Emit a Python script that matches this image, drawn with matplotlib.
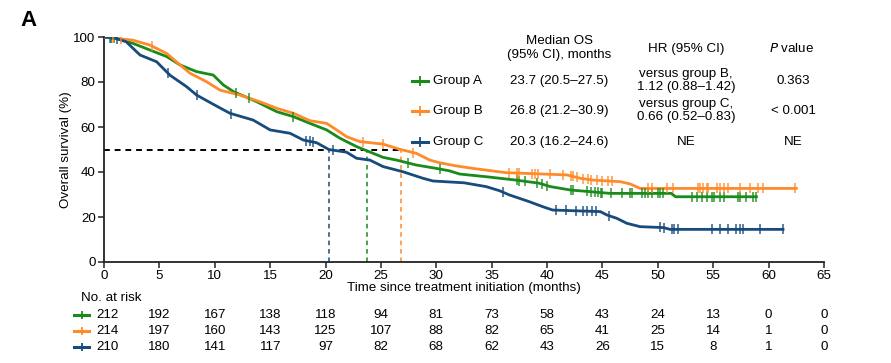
import numpy as np
import matplotlib
matplotlib.use("Agg")
import matplotlib.pyplot as plt
from matplotlib.lines import Line2D

plt.rcParams['font.family'] = ['Liberation Sans', 'DejaVu Sans']

# ---------------- data ----------------
groups = ["Group A", "Group B", "Group C"]
colors = ["#1a8a1a", "#ff8a2a", "#174b7b"]

time_A = [0, 1.4, 2.6, 4.15, 5.66, 6.86, 8.36, 9.86, 10.77, 11.7, 13.8, 15.6, 17.1, 18.6, 20.1,
          21.3, 22.8, 23.7, 25.2, 26.4, 28.2, 30.0, 31.2, 32.1, 34.5, 37.2, 39.3, 40.3, 42.1,
          45.7, 51.2, 51.6, 58.9]
surv_A = [100, 99, 97.2, 94.2, 91.3, 87.6, 84.6, 83.1, 78.7, 75.7, 71.2, 66.8, 64.6, 61.6, 58.7,
          55, 51.3, 49.5, 46.5, 45.3, 43.1, 41.6, 40.5, 39.1, 37.9, 36.4, 35, 33.5, 32,
          30.5, 30.5, 29, 29]

time_B = [0, 1.4, 2.6, 4.15, 5.66, 6.86, 7.76, 9.27, 10.47, 12.27, 14.08, 15.6, 17.1, 18.6, 20.1,
          21.0, 21.9, 23.1, 25.2, 26.7, 28.2, 29.4, 30.3, 31.8, 33.3, 36.3, 41.8, 43.0, 44.2,
          46.6, 47.5, 48.4, 62.5]
surv_B = [100, 99.2, 98.6, 96.4, 92.7, 87.6, 83.9, 80.1, 76.4, 74.2, 71.2, 68.3, 66.1, 62.8, 61.6,
          58.7, 55.7, 53.5, 52.4, 50.1, 48.3, 45.3, 44.1, 42.7, 41.6, 39.7, 38.7, 37.2, 36.4,
          35.7, 34.7, 32.7, 32.7]

time_C = [0, 1.0, 2.0, 3.25, 4.75, 5.96, 7.46, 8.36, 9.9, 11.37, 13.46, 15.0, 16.8, 18.0, 19.2,
          20.3, 21.9, 22.8, 24.0, 25.2, 27.0, 28.8, 29.7, 32.5, 34.5, 35.7, 36.6, 38.4, 39.6,
          40.5, 44.8, 45.4, 46.3, 47.2, 48.4, 50.5, 51.1, 61.3]
surv_C = [100, 99.5, 97.9, 92, 89, 83, 77.9, 74.2, 70, 66.1, 63.1, 58.7, 57.2, 54.2, 53,
          50, 48.8, 46.1, 45.3, 42.4, 40.1, 37.2, 36, 35.2, 33.5, 31.7, 29.8, 26.8, 24.6,
          23.1, 22.4, 20.9, 19.4, 17.2, 15.7, 15.3, 14.5, 14.5]

cens_A = [0.5, 0.9, 11.9, 13.1, 17.1, 27.4, 30.3, 37.3, 37.5, 38.0, 39.1, 39.5, 40.0, 42.2, 42.3,
          43.6, 44.0, 44.3, 44.6, 44.9, 45.0, 45.8, 46.8, 47.5, 47.7, 48.6, 48.8, 49.1, 49.5, 50.0,
          50.2, 50.5, 53.1, 53.5, 54.0, 54.4, 54.9, 55.1, 55.6, 56.0, 57.2, 57.4, 58.0, 58.6, 58.9]
cens_B = [0.8, 1.5, 4.3, 23.4, 25.2, 27.9, 36.6, 37.3, 37.5, 38.6, 38.9, 39.2, 40.3, 41.4, 42.2,
          42.3, 42.7, 43.2, 43.7, 44.0, 44.5, 45.0, 45.5, 45.9, 49.1, 49.5, 50.8, 51.4, 53.6, 53.8,
          54.1, 54.4, 54.5, 55.3, 55.6, 56.0, 56.3, 57.4, 58.3, 59.0, 59.5, 62.4]
cens_C = [0.6, 1.2, 5.8, 8.4, 11.5, 18.2, 18.6, 18.9, 20.7, 36.0, 40.8, 41.7, 42.6, 43.2, 43.6,
          44.1, 44.4, 45.6, 50.2, 50.6, 51.3, 51.5, 51.8, 54.9, 55.6, 56.3, 57.1, 57.4, 57.7, 59.2, 61.3]

medians = [23.7, 26.8, 20.3]
median_text = ["23.7 (20.5\u201327.5)", "26.8 (21.2\u201330.9)", "20.3 (16.2\u201324.6)"]
hr_text = ["versus group B,\n1.12 (0.88\u20131.42)", "versus group C,\n0.66 (0.52\u20130.83)", "NE"]
p_text = ["0.363", "< 0.001", "NE"]

risk_times = [0, 5, 10, 15, 20, 25, 30, 35, 40, 45, 50, 55, 60, 65]
risk_A = [212, 192, 167, 138, 118, 94, 81, 73, 58, 43, 24, 13, 0, 0]
risk_B = [214, 197, 160, 143, 125, 107, 88, 82, 65, 41, 25, 14, 1, 0]
risk_C = [210, 180, 141, 117, 97, 82, 68, 62, 43, 26, 15, 8, 1, 0]

xticks = [0, 5, 10, 15, 20, 25, 30, 35, 40, 45, 50, 55, 60, 65]
yticks = [0, 20, 40, 60, 80, 100]

# ---------------- figure ----------------
W, H = 891, 363
fig = plt.figure(figsize=(W / 100, H / 100), dpi=100)

def fx(px):
    return px / W

def fy(py):
    return 1 - py / H

FS = 9.6
ax = fig.add_axes([fx(104), fy(262), fx(824) - fx(104), fy(37) - fy(262)])
ax.set_xlim(0, 65)
ax.set_ylim(0, 100)
for s in ["top", "right"]:
    ax.spines[s].set_visible(False)
for s in ["left", "bottom"]:
    ax.spines[s].set_linewidth(1.3)
    ax.spines[s].set_color("#222222")
ax.set_xticks(xticks)
ax.set_yticks(yticks)
ax.tick_params(direction="out", length=4, width=1.1, labelsize=FS, pad=2, color="#222222")
ax.set_xlabel("Time since treatment initiation (months)", fontsize=FS, labelpad=0)
ax.set_ylabel("Overall survival (%)", fontsize=FS, labelpad=1)

times = [time_A, time_B, time_C]
survs = [surv_A, surv_B, surv_C]
cens = [cens_A, cens_B, cens_C]

# median reference lines
for med, c in zip(medians, colors):
    ax.plot([med, med], [0, 50], color=c, lw=1.1, ls=(0, (3, 2.5)), zorder=2)
ax.plot([0, max(medians)], [50, 50], color="black", lw=1.4, ls=(0, (3, 2.5)), zorder=2)

# curves
for t, sv, ce, c in zip(times, survs, cens, colors):
    ax.plot(t, sv, color=c, lw=2.0, solid_joinstyle="miter", zorder=3)
    cy = np.interp(ce, t, sv)
    ax.plot(ce, cy, ls="none", marker="|", ms=7, mew=1.1, color=c, alpha=0.9, zorder=4)

# panel label
fig.text(fx(20), fy(20), "A", fontsize=16, fontweight="bold", ha="left", va="center")

# legend / summary table
row_y = [81, 111, 142]
fig.text(fx(559), fy(48), "Median OS\n(95% CI), months", fontsize=FS, ha="center", va="center",
         linespacing=1.25)
fig.text(fx(686), fy(49), "HR (95% CI)", fontsize=FS, ha="center", va="center")
fig.text(fx(792), fy(49), r"$\it{P}$ value", fontsize=FS, ha="center", va="center")
for i in range(3):
    y = fy(row_y[i])
    fig.add_artist(Line2D([fx(412), fx(428)], [y, y], transform=fig.transFigure, color=colors[i], lw=2.2))
    fig.add_artist(Line2D([fx(420)], [y], transform=fig.transFigure, color=colors[i], marker="|",
                          ms=7, mew=1.3, ls="none"))
    fig.text(fx(433), y, groups[i], fontsize=FS, ha="left", va="center")
    fig.text(fx(559), y, median_text[i], fontsize=FS, ha="center", va="center")
    hr_y = fy(row_y[i] - 0.5) if i < 2 else y
    fig.text(fx(686), hr_y, hr_text[i], fontsize=FS, ha="center", va="center", linespacing=1.15)
    fig.text(fx(793), y, p_text[i], fontsize=FS, ha="center", va="center")

# risk table
fig.text(fx(81), fy(298), "No. at risk", fontsize=FS, ha="left", va="center")
risk_rows = [risk_A, risk_B, risk_C]
risk_y = [315, 331, 347]
for i, row in enumerate(risk_rows):
    y = fy(risk_y[i])
    fig.add_artist(Line2D([fx(74), fx(89)], [y, y], transform=fig.transFigure, color=colors[i], lw=2.2))
    fig.add_artist(Line2D([fx(81.5)], [y], transform=fig.transFigure, color=colors[i], marker="|",
                          ms=6, mew=1.3, ls="none"))
    for tt, n in zip(risk_times, row):
        xd = ax.transData.transform((tt, 0))[0]
        xpx = xd / (fig.dpi * fig.get_figwidth()) * W
        if tt == 0:
            xpx = 107.5
        fig.text(fx(xpx), y, str(n), fontsize=FS, ha="center", va="center")

fig.savefig("out.png", dpi=100)
